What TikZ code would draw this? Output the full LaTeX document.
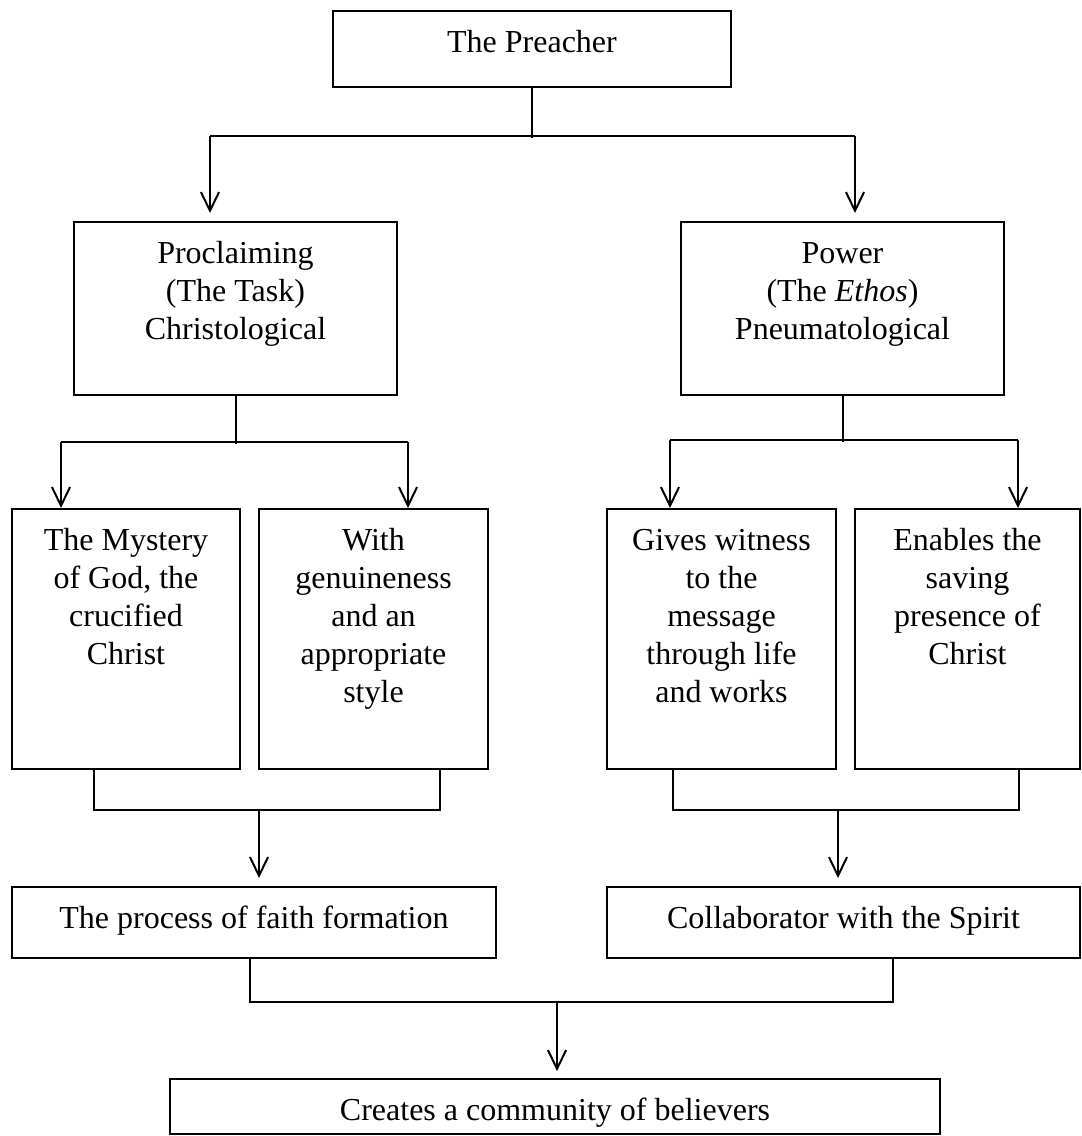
\documentclass[tikz,border=0pt]{standalone}
\usepackage{fontspec}
\setmainfont{Liberation Serif}
\usetikzlibrary{arrows.meta}

% one pixel of the layout
\newlength\pxu
\setlength\pxu{0.375pt}
% text set at the top of a fixed box
\newcommand\boxtext[3]{\parbox[t][#2\pxu][t]{#1\pxu}{\centering\rule{0pt}{15.4pt}#3}}

\begin{document}
\begin{tikzpicture}[x=0.375pt, y=-0.375pt, >={Straight Barb[length=7pt,width=6.8pt]},
  box/.style={draw, rectangle, inner sep=0pt, anchor=north, line width=0.75pt,
    font=\fontsize{12}{14.25}\selectfont},
  link/.style={line width=0.75pt}]
  \useasboundingbox (0,0) rectangle (1082,1136);

  % the preacher
  \node[box] (preacher) at (532,10) {\boxtext{398}{76}{The Preacher}};

  % task and ethos
  \node[box] (task) at (235.5,221) {\boxtext{323}{173}{Proclaiming\\(The Task)\\Christological}};
  \node[box] (ethos) at (842.5,221) {\boxtext{323}{173}{Power\\(The \textit{Ethos})\\Pneumatological}};

  % four boxes of the third row
  \node[box] (mystery) at (126,508) {\boxtext{228}{260}{The Mystery\\of God, the\\crucified\\Christ}};
  \node[box] (genuine) at (373.5,508) {\boxtext{229}{260}{With\\genuineness\\and an\\appropriate\\style}};
  \node[box] (witness) at (721.5,508) {\boxtext{229}{260}{Gives witness\\to the\\message\\through life\\and works}};
  \node[box] (presence) at (967.5,508) {\boxtext{225}{260}{Enables the\\saving\\presence of\\Christ}};

  % fourth row
  \node[box] (faith) at (254,886) {\boxtext{484}{71}{The process of faith formation}};
  \node[box] (spirit) at (843.5,886) {\boxtext{473}{71}{Collaborator with the Spirit}};

  % the community
  \node[box] (community) at (555,1078) {\boxtext{770}{55}{Creates a community of believers}};

  % fork under the preacher
  \draw[link] (preacher.south) -- ++(0,50);
  \coordinate (t1) at (210,136);
  \coordinate (t2) at (855,136);
  \draw[link] (t1) -- (t2);
  \foreach \p in {t1,t2}
    \draw[link,->,shorten >=3pt] (\p) -- (\p |- task.north);

  % forks under task and ethos
  \draw[link] (task.south) -- ++(0,48);
  \draw[link] (ethos.south) -- ++(0,46);
  \coordinate (a1) at (61,442);
  \coordinate (a2) at (408,442);
  \coordinate (b1) at (670,440);
  \coordinate (b2) at (1018,440);
  \draw[link] (a1) -- (a2);
  \draw[link] (b1) -- (b2);
  \foreach \p in {a1,a2,b1,b2}
    \draw[link,->] (\p) -- (\p |- mystery.north);

  % brackets under the third row
  \coordinate (c1) at (94,810);
  \coordinate (c2) at (440,810);
  \coordinate (c3) at (259,810);
  \draw[link] (c1 |- mystery.south) -- (c1) -- (c2) -- (c2 |- genuine.south);
  \draw[link,->,shorten >=3pt] (c3) -- (c3 |- faith.north);
  \coordinate (d1) at (673,810);
  \coordinate (d2) at (1019,810);
  \coordinate (d3) at (838,810);
  \draw[link] (d1 |- witness.south) -- (d1) -- (d2) -- (d2 |- presence.south);
  \draw[link,->,shorten >=3pt] (d3) -- (d3 |- spirit.north);

  % bracket under the fourth row
  \coordinate (e1) at (250,1002);
  \coordinate (e2) at (893,1002);
  \coordinate (e3) at (557,1002);
  \draw[link] (e1 |- faith.south) -- (e1) -- (e2) -- (e2 |- spirit.south);
  \draw[link,->,shorten >=2.6pt] (e3) -- (e3 |- community.north);

\end{tikzpicture}
\end{document}
